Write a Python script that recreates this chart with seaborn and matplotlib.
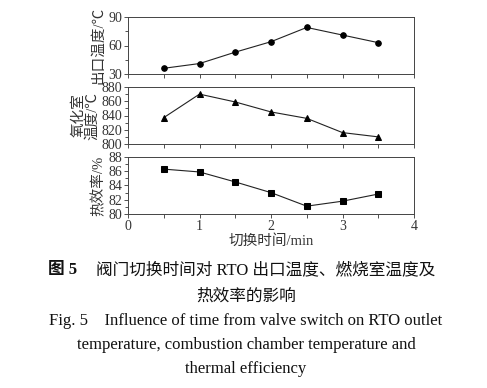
import numpy as np
import pandas as pd
import matplotlib.pyplot as plt
import seaborn as sns
from matplotlib.ticker import MultipleLocator

sns.set_style("ticks")
plt.rcParams['font.family'] = ['Liberation Serif', 'Noto Sans CJK SC', 'DejaVu Sans']
plt.rcParams['axes.unicode_minus'] = False

# data
switch_time = [0.5, 1.0, 1.5, 2.0, 2.5, 3.0, 3.5]
outlet_temp = [36, 41, 53, 64, 79, 71, 63]
chamber_temp = [837, 870, 859, 845, 836, 816, 810]
efficiency = [86.3, 85.9, 84.5, 83.0, 81.1, 81.8, 82.8]

df = pd.DataFrame({"t": switch_time, "outlet": outlet_temp,
                   "chamber": chamber_temp, "eff": efficiency})

fig = plt.figure(figsize=(4.87, 3.88), dpi=100)
W, H = 487, 388
left, right = 128 / W, 414 / W
panels = [(17, 74), (87, 144), (157, 214)]
axes = [fig.add_axes([left, 1 - b / H, right - left, (b - t) / H]) for t, b in panels]

line_kw = dict(color="#222222", linewidth=0.8, markeredgecolor="black",
               markerfacecolor="black")
sns.lineplot(data=df, x="t", y="outlet", ax=axes[0], marker="o", markersize=4, **line_kw)
sns.lineplot(data=df, x="t", y="chamber", ax=axes[1], marker="^", markersize=4.5, **line_kw)
sns.lineplot(data=df, x="t", y="eff", ax=axes[2], marker="s", markersize=3.8, **line_kw)

ylims = [(30, 90), (800, 880), (80, 88)]
ymajor = [30, 20, 2]
yminor = [15, 10, 1]
ylabels = ["出口温度/℃", "氧化室\n温度/℃", "热效率/%"]

for ax, yl, ma, mi, lab in zip(axes, ylims, ymajor, yminor, ylabels):
    ax.set_xlim(0, 4)
    ax.set_ylim(*yl)
    ax.xaxis.set_major_locator(MultipleLocator(1))
    ax.xaxis.set_minor_locator(MultipleLocator(0.5))
    ax.yaxis.set_major_locator(MultipleLocator(ma))
    ax.yaxis.set_minor_locator(MultipleLocator(mi))
    ax.tick_params(which="major", direction="out", length=3, width=0.6,
                   labelsize=10, colors="#333333", pad=1)
    ax.tick_params(which="minor", direction="out", length=2, width=0.6, colors="#333333")
    ax.tick_params(axis="x", which="minor", length=3)
    for s in ax.spines.values():
        s.set_linewidth(0.7)
        s.set_color("#444444")
    ax.set_xlabel("")
    ax.set_ylabel(lab, fontsize=10.5, color="#333333", labelpad=2, linespacing=1.0)

axes[0].tick_params(axis="x", labelbottom=False)
axes[1].tick_params(axis="x", labelbottom=False)
axes[2].set_xlabel("切换时间/min", fontsize=10.5, color="#333333", labelpad=1)

cap_kw = dict(ha="center", va="center", color="#111111", fontsize=12)
cx = 246 / W
fig.text(48 / W, 1 - 270 / H, "图 5", fontsize=12, fontweight="bold", ha="left",
         va="center", color="#111111")
fig.text(96 / W, 1 - 270 / H, "阀门切换时间对 RTO 出口温度、燃烧室温度及",
         fontsize=12, ha="left", va="center", color="#111111")
fig.text(cx, 1 - 297 / H, "热效率的影响", **cap_kw)
fig.text(cx, 1 - 321 / H, "Fig. 5    Influence of time from valve switch on RTO outlet",
         **cap_kw)
fig.text(cx, 1 - 345 / H, "temperature, combustion chamber temperature and", **cap_kw)
fig.text(cx, 1 - 369 / H, "thermal efficiency", **cap_kw)

fig.savefig("out.png", dpi=100)
